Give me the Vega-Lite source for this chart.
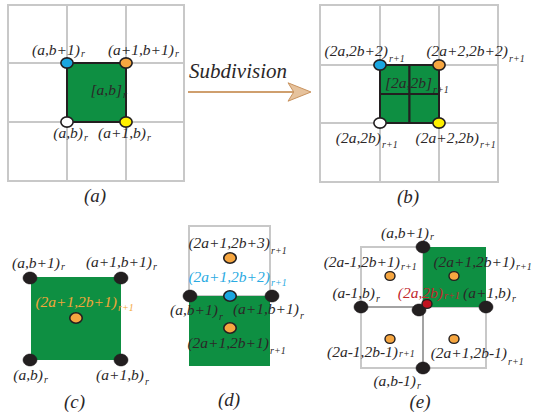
{
  "$schema": "https://vega.github.io/schema/vega-lite/v6.json",
  "width": 536,
  "height": 415,
  "padding": 0,
  "autosize": {"type": "none"},
  "background": "white",
  "view": {"stroke": null},
  "datasets": {
    "cells": [
      {"x": 8, "x2": 67, "y": 5, "y2": 63}, {"x": 67, "x2": 126, "y": 5, "y2": 63}, {"x": 126, "x2": 184, "y": 5, "y2": 63},
      {"x": 8, "x2": 67, "y": 63, "y2": 122}, {"x": 67, "x2": 126, "y": 63, "y2": 122}, {"x": 126, "x2": 184, "y": 63, "y2": 122},
      {"x": 8, "x2": 67, "y": 122, "y2": 181}, {"x": 67, "x2": 126, "y": 122, "y2": 181}, {"x": 126, "x2": 184, "y": 122, "y2": 181},
      {"x": 320, "x2": 380, "y": 5, "y2": 65}, {"x": 380, "x2": 439, "y": 5, "y2": 65}, {"x": 439, "x2": 498, "y": 5, "y2": 65},
      {"x": 320, "x2": 380, "y": 65, "y2": 123}, {"x": 380, "x2": 439, "y": 65, "y2": 123}, {"x": 439, "x2": 498, "y": 65, "y2": 123},
      {"x": 320, "x2": 380, "y": 123, "y2": 182}, {"x": 380, "x2": 439, "y": 123, "y2": 182}, {"x": 439, "x2": 498, "y": 123, "y2": 182},
      {"x": 189, "x2": 270, "y": 226, "y2": 296},
      {"x": 361, "x2": 423, "y": 247, "y2": 307}, {"x": 361, "x2": 423, "y": 307, "y2": 368}, {"x": 423, "x2": 486, "y": 307, "y2": 368}
    ],
    "greenPlain": [
      {"x": 31, "x2": 121, "y": 277, "y2": 360},
      {"x": 189, "x2": 270, "y": 296, "y2": 366},
      {"x": 423, "x2": 486, "y": 247, "y2": 307}
    ],
    "greenOutlined": [
      {"x": 67, "x2": 126, "y": 63, "y2": 122},
      {"x": 380, "x2": 409.5, "y": 65, "y2": 94}, {"x": 409.5, "x2": 439, "y": 65, "y2": 94},
      {"x": 380, "x2": 409.5, "y": 94, "y2": 123}, {"x": 409.5, "x2": 439, "y": 94, "y2": 123}
    ],
    "darkLines": [
      {"x": 361, "x2": 423, "y": 307, "y2": 307},
      {"x": 423, "x2": 423, "y": 307, "y2": 368}
    ],
    "arrowLine": [{"x": 188, "x2": 300, "y": 92, "y2": 92}],
    "arrowHead": [{"x": 299.5, "y": 92}],
    "ringDots": [
      {"x": 67, "y": 63, "c": "blue"}, {"x": 126, "y": 63, "c": "orange"}, {"x": 67, "y": 122, "c": "white"}, {"x": 126, "y": 122, "c": "yellow"},
      {"x": 380, "y": 65, "c": "blue"}, {"x": 439, "y": 65, "c": "orange"}, {"x": 380, "y": 123, "c": "white"}, {"x": 439, "y": 123, "c": "yellow"}
    ],
    "blackDots": [
      {"x": 30, "y": 278}, {"x": 121, "y": 278}, {"x": 30, "y": 360}, {"x": 121, "y": 360},
      {"x": 190, "y": 296}, {"x": 272, "y": 296},
      {"x": 423, "y": 247}, {"x": 361, "y": 307}, {"x": 419, "y": 310}, {"x": 486, "y": 307}, {"x": 423, "y": 368}
    ],
    "midDots": [
      {"x": 76, "y": 318, "c": "orange"},
      {"x": 230, "y": 258, "c": "orange"}, {"x": 230, "y": 296, "c": "blue"}, {"x": 230, "y": 328, "c": "orange"}
    ],
    "smallDots": [
      {"x": 390, "y": 276, "c": "orange"}, {"x": 454, "y": 276, "c": "orange"}, {"x": 390, "y": 339, "c": "orange"}, {"x": 454, "y": 339, "c": "orange"},
      {"x": 427, "y": 304, "c": "red"}
    ],
    "mainText": [
      {"x": 80, "y": 50, "t": "(a,b+1)", "c": "k"},
      {"x": 174, "y": 50, "t": "(a+1,b+1)", "c": "k"},
      {"x": 122, "y": 90, "t": "[a,b]", "c": "k"},
      {"x": 83, "y": 133, "t": "(a,b)", "c": "k"},
      {"x": 146, "y": 133, "t": "(a+1,b)", "c": "k"},
      {"x": 388, "y": 51, "t": "(2a,2b+2)", "c": "k"},
      {"x": 508, "y": 51, "t": "(2a+2,2b+2)", "c": "k"},
      {"x": 432, "y": 83, "t": "[2a,2b]", "c": "k"},
      {"x": 381, "y": 138, "t": "(2a,2b)", "c": "k"},
      {"x": 479, "y": 138, "t": "(2a+2,2b)", "c": "k"},
      {"x": 60, "y": 263, "t": "(a,b+1)", "c": "k"},
      {"x": 152, "y": 262, "t": "(a+1,b+1)", "c": "k"},
      {"x": 117, "y": 302, "t": "(2a+1,2b+1)", "c": "o"},
      {"x": 43, "y": 375, "t": "(a,b)", "c": "k"},
      {"x": 144, "y": 375, "t": "(a+1,b)", "c": "k"},
      {"x": 270, "y": 243, "t": "(2a+1,2b+3)", "c": "k"},
      {"x": 270, "y": 277, "t": "(2a+1,2b+2)", "c": "b"},
      {"x": 218, "y": 310, "t": "(a,b+1)", "c": "k"},
      {"x": 299, "y": 309, "t": "(a+1,b+1)", "c": "k"},
      {"x": 269, "y": 343, "t": "(2a+1,2b+1)", "c": "k"},
      {"x": 429, "y": 233, "t": "(a,b+1)", "c": "k"},
      {"x": 400, "y": 262, "t": "(2a-1,2b+1)", "c": "k"},
      {"x": 515, "y": 262, "t": "(2a+1,2b+1)", "c": "k"},
      {"x": 375, "y": 293, "t": "(a-1,b)", "c": "k"},
      {"x": 443, "y": 293, "t": "(2a,2b)", "c": "r"},
      {"x": 511, "y": 293, "t": "(a+1,b)", "c": "k"},
      {"x": 398, "y": 352, "t": "(2a-1,2b-1)", "c": "k"},
      {"x": 507, "y": 353, "t": "(2a+1,2b-1)", "c": "k"},
      {"x": 416, "y": 381, "t": "(a,b-1)", "c": "k"}
    ],
    "subText": [
      {"x": 81, "y": 54, "t": "r", "c": "k"},
      {"x": 175, "y": 54, "t": "r", "c": "k"},
      {"x": 123, "y": 95, "t": "r", "c": "k"},
      {"x": 84, "y": 138, "t": "r", "c": "k"},
      {"x": 147, "y": 138, "t": "r", "c": "k"},
      {"x": 389, "y": 59, "t": "r+1", "c": "k"},
      {"x": 509, "y": 59, "t": "r+1", "c": "k"},
      {"x": 433, "y": 90, "t": "r+1", "c": "k"},
      {"x": 382, "y": 145, "t": "r+1", "c": "k"},
      {"x": 480, "y": 145, "t": "r+1", "c": "k"},
      {"x": 61, "y": 267, "t": "r", "c": "k"},
      {"x": 153, "y": 267, "t": "r", "c": "k"},
      {"x": 118, "y": 308, "t": "r+1", "c": "o"},
      {"x": 44, "y": 380, "t": "r", "c": "k"},
      {"x": 145, "y": 382, "t": "r", "c": "k"},
      {"x": 271, "y": 251, "t": "r+1", "c": "k"},
      {"x": 271, "y": 283, "t": "r+1", "c": "b"},
      {"x": 219, "y": 317, "t": "r", "c": "k"},
      {"x": 300, "y": 316, "t": "r", "c": "k"},
      {"x": 270, "y": 351, "t": "r+1", "c": "k"},
      {"x": 430, "y": 237, "t": "r", "c": "k"},
      {"x": 401, "y": 267, "t": "r+1", "c": "k"},
      {"x": 516, "y": 267, "t": "r+1", "c": "k"},
      {"x": 376, "y": 299, "t": "r", "c": "k"},
      {"x": 444, "y": 296, "t": "r+1", "c": "r"},
      {"x": 512, "y": 299, "t": "r", "c": "k"},
      {"x": 399, "y": 354, "t": "r+1", "c": "k"},
      {"x": 508, "y": 362, "t": "r+1", "c": "k"},
      {"x": 417, "y": 386, "t": "r", "c": "k"}
    ],
    "captions": [
      {"x": 95, "y": 196, "t": "(a)"},
      {"x": 408, "y": 197, "t": "(b)"},
      {"x": 74.5, "y": 402, "t": "(c)"},
      {"x": 229, "y": 400, "t": "(d)"},
      {"x": 420, "y": 402, "t": "(e)"}
    ],
    "title": [{"x": 189, "y": 72, "t": "Subdivision"}]
  },
  "layer": [
    {
      "data": {"name": "cells"},
      "mark": {"type": "rect", "fill": "white", "stroke": "#c8c8c8", "strokeWidth": 2},
      "encoding": {
        "x": {"field": "x", "type": "quantitative", "scale": {"domain": [0, 536], "nice": false, "zero": false}, "axis": null},
        "x2": {"field": "x2"},
        "y": {"field": "y", "type": "quantitative", "scale": {"domain": [415, 0], "nice": false, "zero": false}, "axis": null},
        "y2": {"field": "y2"}
      }
    },
    {
      "data": {"name": "greenPlain"},
      "mark": {"type": "rect", "fill": "#0e8f42", "strokeWidth": 0},
      "encoding": {
        "x": {"field": "x", "type": "quantitative", "axis": null},
        "x2": {"field": "x2"},
        "y": {"field": "y", "type": "quantitative", "axis": null},
        "y2": {"field": "y2"}
      }
    },
    {
      "data": {"name": "greenOutlined"},
      "mark": {"type": "rect", "fill": "#0e8f42", "stroke": "#231f20", "strokeWidth": 2},
      "encoding": {
        "x": {"field": "x", "type": "quantitative", "axis": null},
        "x2": {"field": "x2"},
        "y": {"field": "y", "type": "quantitative", "axis": null},
        "y2": {"field": "y2"}
      }
    },
    {
      "data": {"name": "darkLines"},
      "mark": {"type": "rule", "stroke": "#a3a3a3", "strokeWidth": 2},
      "encoding": {
        "x": {"field": "x", "type": "quantitative", "axis": null},
        "x2": {"field": "x2"},
        "y": {"field": "y", "type": "quantitative", "axis": null},
        "y2": {"field": "y2"}
      }
    },
    {
      "data": {"name": "arrowLine"},
      "mark": {"type": "rule", "stroke": "#cf9f6e", "strokeWidth": 2},
      "encoding": {
        "x": {"field": "x", "type": "quantitative", "axis": null},
        "x2": {"field": "x2"},
        "y": {"field": "y", "type": "quantitative", "axis": null},
        "y2": {"field": "y2"}
      }
    },
    {
      "data": {"name": "arrowHead"},
      "mark": {"type": "point", "filled": true, "shape": "M1,0L-1,-0.8L-0.5,0L-1,0.8Z", "size": 529, "fill": "#e6c29c", "stroke": "#c9935f", "strokeWidth": 1, "opacity": 1},
      "encoding": {
        "x": {"field": "x", "type": "quantitative", "axis": null},
        "y": {"field": "y", "type": "quantitative", "axis": null}
      }
    },
    {
      "data": {"name": "ringDots"},
      "mark": {"type": "point", "filled": true, "shape": "M-1,0A1,0.83,0,1,1,1,0A1,0.83,0,1,1,-1,0Z", "size": 150, "stroke": "#231f20", "strokeWidth": 1.6, "opacity": 1},
      "encoding": {
        "x": {"field": "x", "type": "quantitative", "axis": null},
        "y": {"field": "y", "type": "quantitative", "axis": null},
        "fill": {"field": "c", "type": "nominal", "legend": null, "scale": {"domain": ["blue", "orange", "white", "yellow", "red", "black"], "range": ["#1aa6e0", "#f6a640", "#ffffff", "#fff000", "#c1121f", "#231f20"]}}
      }
    },
    {
      "data": {"name": "blackDots"},
      "mark": {"type": "point", "filled": true, "shape": "M-1,0A1,0.86,0,1,1,1,0A1,0.86,0,1,1,-1,0Z", "size": 196, "fill": "#231f20", "stroke": "#231f20", "strokeWidth": 0.5, "opacity": 1},
      "encoding": {
        "x": {"field": "x", "type": "quantitative", "axis": null},
        "y": {"field": "y", "type": "quantitative", "axis": null}
      }
    },
    {
      "data": {"name": "midDots"},
      "mark": {"type": "point", "filled": true, "shape": "M-1,0A1,0.83,0,1,1,1,0A1,0.83,0,1,1,-1,0Z", "size": 156, "stroke": "#231f20", "strokeWidth": 1.6, "opacity": 1},
      "encoding": {
        "x": {"field": "x", "type": "quantitative", "axis": null},
        "y": {"field": "y", "type": "quantitative", "axis": null},
        "fill": {"field": "c", "type": "nominal", "legend": null}
      }
    },
    {
      "data": {"name": "smallDots"},
      "mark": {"type": "point", "filled": true, "shape": "M-1,0A1,0.88,0,1,1,1,0A1,0.88,0,1,1,-1,0Z", "size": 100, "stroke": "#231f20", "strokeWidth": 1.4, "opacity": 1},
      "encoding": {
        "x": {"field": "x", "type": "quantitative", "axis": null},
        "y": {"field": "y", "type": "quantitative", "axis": null},
        "fill": {"field": "c", "type": "nominal", "legend": null}
      }
    },
    {
      "data": {"name": "mainText"},
      "mark": {"type": "text", "align": "right", "baseline": "middle", "font": "Liberation Serif", "fontStyle": "italic", "fontSize": 15.5},
      "encoding": {
        "x": {"field": "x", "type": "quantitative", "axis": null},
        "y": {"field": "y", "type": "quantitative", "axis": null},
        "text": {"field": "t"},
        "color": {"field": "c", "type": "nominal", "legend": null, "scale": {"domain": ["k", "o", "b", "r"], "range": ["#2b2728", "#f4a63a", "#2aaae2", "#c1272d"]}}
      }
    },
    {
      "data": {"name": "subText"},
      "mark": {"type": "text", "align": "left", "baseline": "middle", "font": "Liberation Serif", "fontStyle": "italic", "fontSize": 10},
      "encoding": {
        "x": {"field": "x", "type": "quantitative", "axis": null},
        "y": {"field": "y", "type": "quantitative", "axis": null},
        "text": {"field": "t"},
        "color": {"field": "c", "type": "nominal", "legend": null}
      }
    },
    {
      "data": {"name": "captions"},
      "mark": {"type": "text", "align": "center", "baseline": "middle", "font": "Liberation Serif", "fontStyle": "italic", "fontSize": 19, "fill": "#2b2728"},
      "encoding": {
        "x": {"field": "x", "type": "quantitative", "axis": null},
        "y": {"field": "y", "type": "quantitative", "axis": null},
        "text": {"field": "t"}
      }
    },
    {
      "data": {"name": "title"},
      "mark": {"type": "text", "align": "left", "baseline": "middle", "font": "Liberation Serif", "fontStyle": "italic", "fontSize": 21, "fill": "#2b2728"},
      "encoding": {
        "x": {"field": "x", "type": "quantitative", "axis": null},
        "y": {"field": "y", "type": "quantitative", "axis": null},
        "text": {"field": "t"}
      }
    }
  ]
}
